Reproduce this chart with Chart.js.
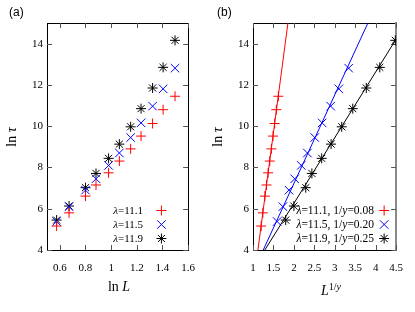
<!DOCTYPE html>
<html>
<head>
<meta charset="utf-8">
<script src="https://cdn.jsdelivr.net/npm/chart.js@4.4.1/dist/chart.umd.min.js"></script>
<style>
  html, body { margin: 0; padding: 0; background: #fff; }
  #wrap { position: relative; width: 415px; height: 312px; overflow: hidden; }
  .pane { position: absolute; top: 0; height: 312px; }
  .txt { position: absolute; font-family: "Liberation Serif", "Times New Roman", serif; color: #000; white-space: nowrap; }
  .lbl { position: absolute; font-family: "Liberation Sans", Arial, sans-serif; font-size: 12px; line-height: 14px; }
  .leg { font-size: 11px; line-height: 14px; text-align: right; }
  .legb { font-size: 11.5px; }
  .ttl { font-size: 14px; line-height: 16px; transform: translate(-50%, -50%); }
  .rot { transform: translate(-50%, -50%) rotate(-90deg); }
</style>
</head>
<body>
<div id="wrap">
  <div class="pane" style="left:0;width:207px"><canvas id="ca"></canvas></div>
  <div class="pane" style="left:207px;width:208px"><canvas id="cb"></canvas></div>

  <div class="lbl" style="left:9px;top:5px">(a)</div>
  <div class="lbl" style="left:217px;top:5px">(b)</div>

  <div class="txt ttl rot" style="left:12px;top:137px">ln <i>τ</i></div>
  <div class="txt ttl rot" style="left:218px;top:137px">ln <i>τ</i></div>
  <div class="txt ttl" style="left:119px;top:287px">ln <i>L</i></div>
  <div class="txt ttl" style="left:331px;top:289px"><i>L</i><sup style="font-size:10px"><span>1/</span><i>y</i></sup></div>

  <div class="txt leg" style="right:272px;top:203px"><i>λ</i>=11.1</div>
  <div class="txt leg" style="right:272px;top:217px"><i>λ</i>=11.5</div>
  <div class="txt leg" style="right:272px;top:231px"><i>λ</i>=11.9</div>

  <div class="txt leg legb" style="right:41px;top:203px"><i>λ</i>=11.1, 1/<i>y</i>=0.08</div>
  <div class="txt leg legb" style="right:41px;top:217px"><i>λ</i>=11.5, 1/<i>y</i>=0.20</div>
  <div class="txt leg legb" style="right:41px;top:231px"><i>λ</i>=11.9, 1/<i>y</i>=0.25</div>
</div>

<script>
// ---- data ----
// panel (a): ln tau vs ln L
const lnL      = [0.575, 0.672, 0.800, 0.882, 0.980, 1.064, 1.152, 1.233, 1.323, 1.405, 1.498];
const lnTau111 = [5.16, 5.80, 6.61, 7.15, 7.74, 8.31, 8.90, 9.52, 10.13, 10.80, 11.45];
const lnTau115 = [5.38, 6.10, 6.90, 7.45, 8.10, 8.70, 9.45, 10.16, 10.97, 11.81, 12.81];
const lnTau119 = [5.45, 6.13, 7.02, 7.71, 8.44, 9.13, 9.97, 10.85, 11.85, 12.85, 14.16];

// panel (b): ln tau vs L^(1/y)
const xB111 = [1.20, 1.24, 1.29, 1.33, 1.37, 1.41, 1.45, 1.49, 1.53, 1.57, 1.62];
const xB115 = [1.59, 1.73, 1.88, 2.02, 2.18, 2.33, 2.51, 2.69, 2.90, 3.10, 3.34];
const xB119 = [1.80, 2.00, 2.29, 2.44, 2.68, 2.91, 3.17, 3.44, 3.77, 4.10, 4.48];

// fitted straight lines in (b), end points
const fitX111 = [1.12, 1.854], fitY111 = [4, 15];
const fitX115 = [1.25, 3.81],  fitY115 = [4, 15];
const fitX119 = [1.29, 4.50],  fitY119 = [4, 14.22];

// axes
const xTicksA = { min: 0.5, max: 1.6, step: 0.2 };
const xTicksB = { min: 1, max: 4.5, step: 0.5 };
const yTicks  = { min: 4, max: 15, step: 2 };

const RED = '#ff0000', BLUE = '#0000ff', BLACK = '#000000';

function pts(xs, ys) { return xs.map((x, i) => ({ x: x, y: ys[i] })); }

function marks(label, data, color, style, r, row) {
  return {
    label: label, data: data, showLine: false, legendRow: row,
    pointStyle: style, pointRadius: r, pointHoverRadius: r,
    borderColor: color, backgroundColor: color, pointBorderWidth: 1
  };
}
function fitLine(data, color) {
  return { data: data, showLine: true, pointRadius: 0, borderColor: color, borderWidth: 1, fill: false };
}

// legend symbols drawn inside the plot, to the right of the html text
const legendMarks = {
  id: 'legendMarks',
  afterDraw(chart, args, opts) {
    const ctx = chart.ctx, area = chart.chartArea;
    chart.data.datasets.forEach(ds => {
      if (ds.legendRow === undefined) return;
      ctx.save();
      ctx.strokeStyle = ds.borderColor;
      ctx.fillStyle = ds.borderColor;
      ctx.lineWidth = 1;
      Chart.helpers.drawPoint(ctx, { pointStyle: ds.pointStyle, radius: ds.pointRadius, borderWidth: 1 },
        area.right - opts.dx, area.bottom - 39.5 + ds.legendRow * 14);
      ctx.restore();
    });
  }
};

// gnuplot style tick marks pointing into the plot, on all four sides
const innerTicks = {
  id: 'innerTicks',
  beforeDatasetsDraw(chart) {
    const ctx = chart.ctx, a = chart.chartArea;
    ctx.save();
    ctx.strokeStyle = '#555';
    ctx.lineWidth = 1;
    ctx.beginPath();
    Object.values(chart.scales).forEach(s => {
      s.ticks.forEach(t => {
        const p = Math.round(s.getPixelForValue(t.value)) + 0.5;
        if (s.position === 'bottom') { ctx.moveTo(p, a.bottom); ctx.lineTo(p, a.bottom - 5); }
        if (s.position === 'top')    { ctx.moveTo(p, a.top);    ctx.lineTo(p, a.top + 5); }
        if (s.position === 'left')   { ctx.moveTo(a.left, p);   ctx.lineTo(a.left + 5, p); }
        if (s.position === 'right')  { ctx.moveTo(a.right, p);  ctx.lineTo(a.right - 5, p); }
      });
    });
    ctx.stroke();
    ctx.restore();
  }
};

const tickFont = { family: '"Liberation Serif", "Times New Roman", serif', size: 11 };
const fmt = v => String(+v.toFixed(2));

function axis(pos, t, show, size, borderColor, borderWidth) {
  const horiz = pos === 'bottom' || pos === 'top';
  return {
    type: 'linear', position: pos, min: t.min, max: t.max,
    ticks: {
      stepSize: t.step, includeBounds: false, display: show, color: '#000',
      font: tickFont, padding: horiz ? 12 : 4, callback: fmt, maxRotation: 0, autoSkip: false
    },
    grid: { display: false, drawTicks: false, drawOnChartArea: false },
    border: { display: true, color: borderColor || '#000', width: borderWidth || 1 },
    afterFit: s => { if (horiz) s.height = size; else s.width = size; }
  };
}

function makeChart(id, datasets, xt, yw, padRight, rightColor, rightWidth, dx) {
  const cv = document.getElementById(id);
  return new Chart(cv, {
    type: 'scatter',
    data: { datasets: datasets },
    options: {
      responsive: false, animation: false, events: [],
      devicePixelRatio: 1,
      layout: { padding: { left: 0, right: padRight, top: 23, bottom: 0 } },
      plugins: { legend: { display: false }, tooltip: { enabled: false }, legendMarks: { dx: dx } },
      scales: {
        x:  axis('bottom', xt, true, 62),
        x2: axis('top', xt, false, 0),
        y:  axis('left', yTicks, true, yw),
        y2: axis('right', yTicks, false, 0, rightColor, rightWidth)
      }
    },
    plugins: [innerTicks, legendMarks]
  });
}

document.getElementById('ca').width = 207;
document.getElementById('ca').height = 312;
document.getElementById('cb').width = 208;
document.getElementById('cb').height = 312;

makeChart('ca', [
  marks('λ=11.1', pts(lnL, lnTau111), RED, 'cross', 5, 0),
  marks('λ=11.5', pts(lnL, lnTau115), BLUE, 'crossRot', 6, 1),
  marks('λ=11.9', pts(lnL, lnTau119), BLACK, 'star', 5, 2)
], xTicksA, 47, 17, '#000', 1, 26.7);

makeChart('cb', [
  fitLine(pts(fitX111, fitY111), RED),
  fitLine(pts(fitX115, fitY115), BLUE),
  fitLine(pts(fitX119, fitY119), BLACK),
  marks('λ=11.1, 1/y=0.08', pts(xB111, lnTau111), RED, 'cross', 5, 0),
  marks('λ=11.5, 1/y=0.20', pts(xB115, lnTau115), BLUE, 'crossRot', 6, 1),
  marks('λ=11.9, 1/y=0.25', pts(xB119, lnTau119), BLACK, 'star', 5, 2)
], xTicksB, 46, 18, '#8a8a8a', 2, 12);
</script>
</body>
</html>
